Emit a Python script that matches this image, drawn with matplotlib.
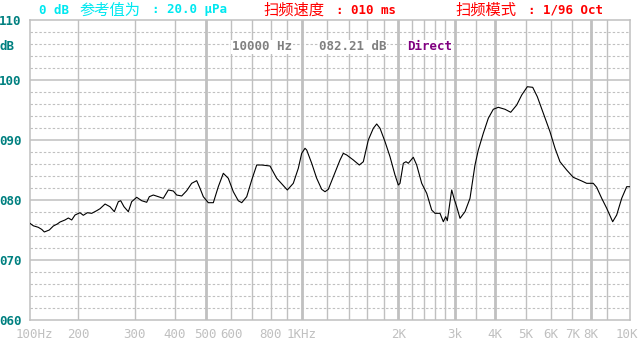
import matplotlib
matplotlib.use("Agg")
import matplotlib.pyplot as plt

# ---- data ----
freq_hz = [141.3, 144.7, 149.9, 153.7, 156.6, 162.3, 167.1, 171.9, 175.3, 181.7,
           186.1, 190.7, 195.3, 202.4, 207.3, 213.4, 220.2, 228.3, 233.8, 242.4,
           251.2, 259.1, 266.7, 271.3, 277.8, 286.6, 293.6, 304.4, 315.6, 327.1,
           333.3, 343.0, 355.6, 368.6, 382.1, 396.1, 405.9, 420.8, 436.2, 452.1,
           468.7, 480.0, 491.6, 509.6, 528.3, 547.6, 567.7, 588.4, 610.0, 632.3,
           648.1, 671.8, 696.4, 721.9, 748.4, 794.3, 833.5, 870.6, 899.8, 939.3,
           973.7, 997.9, 1021.8, 1034.4, 1072.3, 1111.4, 1152.3, 1180.0, 1208.5, 1252.7,
           1314.6, 1346.2, 1379.6, 1446.6, 1510.6, 1554.7, 1611.6, 1670.6, 1711.8, 1753.3,
           1817.4, 1883.6, 1952.6, 1999.9, 2024.4, 2073.1, 2113.5, 2148.9, 2227.5, 2282.6,
           2366.5, 2453.0, 2542.8, 2603.9, 2699.4, 2764.5, 2812.5, 2845.2, 2936.4, 2985.4,
           3043.8, 3117.4, 3231.4, 3349.7, 3472.1, 3555.8, 3686.3, 3821.2, 3961.1, 4106.0,
           4309.5, 4489.9, 4688.3, 4860.3, 5060.2, 5259.8, 5437.1, 5677.5, 5956.6, 6175.6,
           6400.5, 6716.1, 7042.8, 7483.0, 7757.0, 8133.0, 8334.0, 8642.0, 8958.0, 9352.0,
           9625.0, 9979.0, 10344.0, 10593.0]
level_db = [76.1, 75.7, 75.45, 75.1, 74.67, 75.0, 75.67, 76.0, 76.33, 76.67,
            77.0, 76.67, 77.5, 77.88, 77.45, 77.88, 77.78, 78.22, 78.55, 79.33,
            78.88, 78.05, 79.72, 79.88, 78.88, 78.05, 79.72, 80.45, 79.88, 79.62,
            80.55, 80.83, 80.55, 80.28, 81.67, 81.5, 80.83, 80.67, 81.55, 82.78,
            83.22, 81.95, 80.55, 79.55, 79.55, 82.22, 84.45, 83.62, 81.38, 79.88,
            79.55, 80.55, 83.33, 85.83, 85.83, 85.67, 83.62, 82.5, 81.67, 82.78,
            85.28, 87.78, 88.62, 88.33, 86.12, 83.62, 81.78, 81.38, 81.78, 83.88,
            86.67, 87.78, 87.5, 86.67, 85.83, 86.38, 90.0, 91.95, 92.67, 91.95,
            89.72, 87.22, 84.17, 82.5, 82.78, 86.12, 86.38, 86.12, 87.12, 85.83,
            82.78, 81.12, 78.33, 77.78, 77.78, 76.38, 77.22, 76.55, 81.67, 80.28,
            78.88, 76.95, 78.05, 80.28, 85.83, 88.33, 91.12, 93.62, 95.12, 95.45,
            95.12, 94.62, 95.83, 97.5, 98.88, 98.78, 97.22, 94.45, 91.38, 88.62,
            86.38, 85.0, 83.78, 83.17, 82.78, 82.78, 82.12, 80.28, 78.62, 76.38,
            77.5, 80.28, 82.22, 82.21]

x_range = [141.25, 10593.0]
grid_freqs = [200, 300, 400, 500, 600, 700, 800, 900, 1000, 1200, 1400, 1600, 1800,
              2000, 2200, 2400, 2600, 2800, 3000, 3500, 4000, 5000, 6000, 7000, 8000, 9000]
thick_freqs = [500, 1000, 2000, 3000, 4000, 8000]
x_tick_freqs = [200, 300, 400, 500, 600, 800, 1000, 2000, 3000, 4000, 5000, 6000, 7000, 8000]
x_tick_labels = ["200", "300", "400", "500", "600", "800", "1KHz", "2K", "3k", "4K",
                 "5K", "6K", "7K", "8K"]
x_first_label = "100Hz"
x_last_label = "10K"
y_tick_vals = [60, 70, 80, 90, 100, 110]
y_tick_labels = ["060", "070", "080", "090", "100", "110"]
y_unit_label = "dB"

MONO = ["DejaVu Sans Mono", "Noto Sans CJK SC"]
CJK = ["Noto Sans CJK SC", "DejaVu Sans"]
GRID = "#c0c0c0"
TEAL = "#008080"

W, H = 639, 344
fig = plt.figure(figsize=(W / 100, H / 100), dpi=100, facecolor="white")
ax = fig.add_axes([30 / W, 24 / H, 600 / W, 300 / H])
ax.set_xscale("log")
ax.set_xlim(*x_range)
ax.set_ylim(60, 110)
ax.minorticks_off()

# grid
for v in range(62, 110, 2):
    if v % 10:
        ax.axhline(v, color=GRID, lw=0.8, ls=(0, (2.2, 1.8)), zorder=1)
for v in (70, 80, 90, 100):
    ax.axhline(v, color=GRID, lw=1.1, zorder=1)
for f in grid_freqs:
    ax.axvline(f, color=GRID, lw=2.0 if f in thick_freqs else 1.0, zorder=1)
for s in ax.spines.values():
    s.set_color(GRID)
    s.set_linewidth(1.1)

ax.plot(freq_hz, level_db, color="black", lw=0.8, zorder=3)

# ticks
ax.set_yticks(y_tick_vals)
ax.set_yticklabels(y_tick_labels, family=MONO, fontsize=9, fontweight="bold", color=TEAL)
ax.tick_params(axis="y", length=0, pad=6)
ax.set_xticks(x_tick_freqs)
ax.set_xticklabels(x_tick_labels, family=MONO, fontsize=9, color=GRID)
ax.tick_params(axis="x", length=0, pad=5.5)
ax.minorticks_off()

ax.annotate(x_first_label, xy=(0, 0), xycoords="axes fraction", xytext=(4, -7.5),
            textcoords="offset pixels", ha="center", va="top", family=MONO,
            fontsize=9, color=GRID)
ax.annotate(x_last_label, xy=(1, 0), xycoords="axes fraction", xytext=(8, -7.5),
            textcoords="offset pixels", ha="right", va="top", family=MONO,
            fontsize=9, color=GRID)


def ftext(x, y, s, color, fam, size, weight="bold", bbox=False):
    kw = dict(ha="left", va="center", color=color, family=fam, fontsize=size,
              fontweight=weight)
    if bbox:
        kw["bbox"] = dict(facecolor="white", edgecolor="none", pad=0.5)
    fig.text(x / W, 1 - y / H, s, **kw)


CYAN = "#00e8f0"
RED = "#ff0000"
ftext(0, 47, y_unit_label, TEAL, MONO, 9)
ftext(39, 10, "0 dB", CYAN, MONO, 9)
ftext(79, 10, "参考值为", CYAN, CJK, 11, weight="normal")
ftext(151.5, 10, ": 20.0 μPa", CYAN, MONO, 9)
ftext(263, 10, "扫频速度", RED, CJK, 11, weight="normal")
ftext(336, 10, ": 010 ms", RED, MONO, 9)
ftext(455, 10, "扫频模式", RED, CJK, 11, weight="normal")
ftext(528, 10, ": 1/96 Oct", RED, MONO, 9)

ftext(232, 47, "10000 Hz", "#808080", MONO, 9, bbox=True)
ftext(319, 47, "082.21 dB", "#808080", MONO, 9, bbox=True)
ftext(407, 47, "Direct", "#800080", MONO, 9, bbox=True)

fig.savefig("out.png", dpi=100, facecolor="white")
